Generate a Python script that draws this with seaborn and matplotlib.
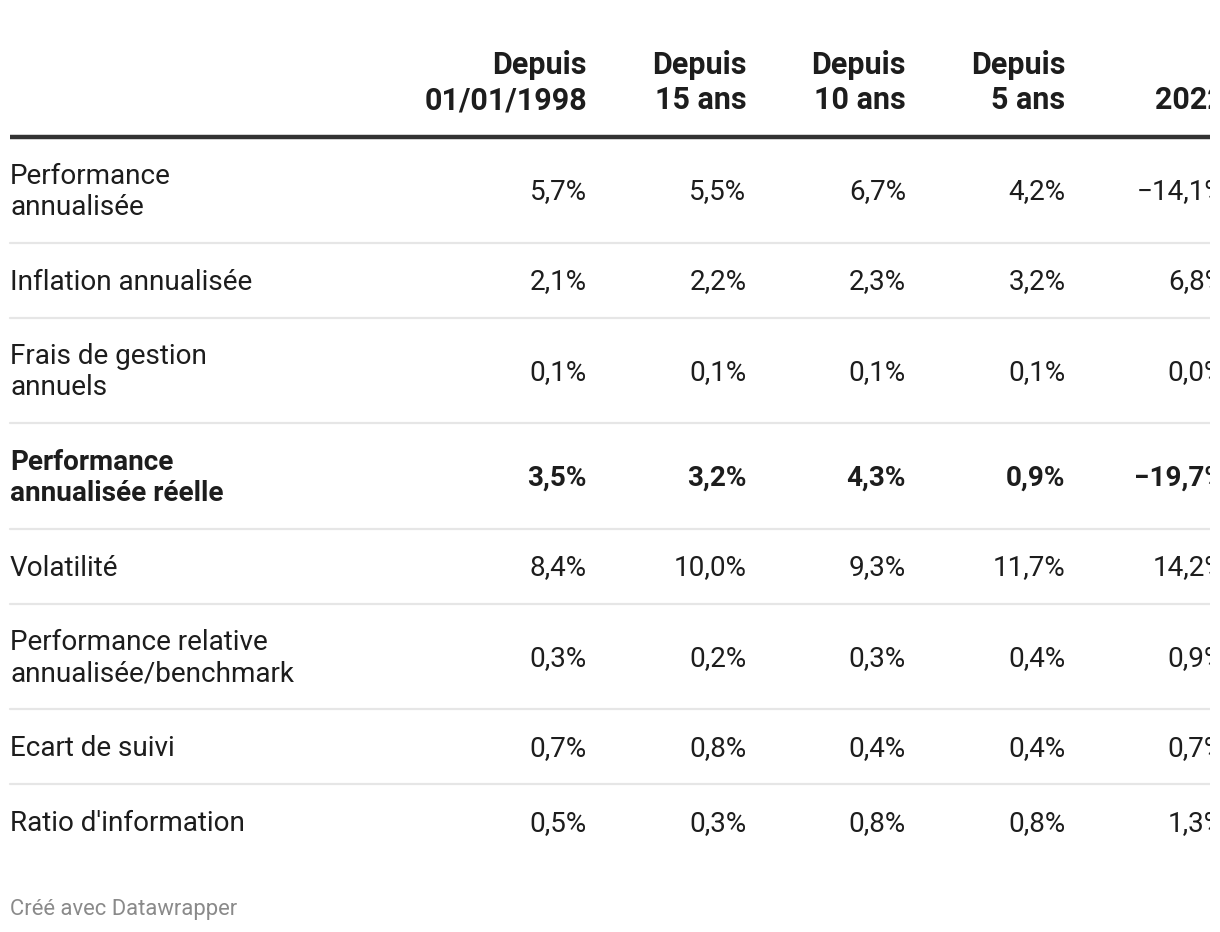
import matplotlib.pyplot as plt
import seaborn as sns

# --- table content ---
columns = ["Depuis\n01/01/1998", "Depuis\n15 ans", "Depuis\n10 ans", "Depuis\n5 ans", "2022"]
row_labels = [
    "Performance\nannualisée",
    "Inflation annualisée",
    "Frais de gestion\nannuels",
    "Performance\nannualisée réelle",
    "Volatilité",
    "Performance relative\nannualisée/benchmark",
    "Ecart de suivi",
    "Ratio d'information",
]
values = [
    [5.7, 5.5, 6.7, 4.2, -14.1],
    [2.1, 2.2, 2.3, 3.2, 6.8],
    [0.1, 0.1, 0.1, 0.1, 0.0],
    [3.5, 3.2, 4.3, 0.9, -19.7],
    [8.4, 10.0, 9.3, 11.7, 14.2],
    [0.3, 0.2, 0.3, 0.4, 0.9],
    [0.7, 0.8, 0.4, 0.4, 0.7],
    [0.5, 0.3, 0.8, 0.8, 1.3],
]
bold_rows = [3]
footer = "Créé avec Datawrapper"


def fmt(v):
    s = f"{abs(v):.1f}".replace(".", ",") + "%"
    return ("\u2212" + s) if v < 0 else s


sns.set_theme(style="white")
plt.rcParams['font.family'] = ['Roboto', 'DejaVu Sans']

W, H = 1220, 932
fig = plt.figure(figsize=(W / 100, H / 100), dpi=100)
# the table is cut at the right edge, like the original export
clip_right = 1210
ax = fig.add_axes([0, 0, clip_right / W, 1])
ax.set_xlim(0, clip_right)
ax.set_ylim(H, 0)
ax.axis("off")

txt = "#1d1d1d"
fs = 20.1
fs_head = 22.0
col_right = [587 + 159.5 * i for i in range(len(columns))]
left = 10

# header
for x, c in zip(col_right, columns):
    lines = c.split("\n")
    for k, line in enumerate(reversed(lines)):
        ax.text(x, 109 - 35 * k, line, ha="right", va="baseline", fontsize=fs_head,
                fontweight="bold", color=txt, clip_on=True)
ax.plot([left, clip_right], [136.5, 136.5], color="#333333", lw=3.2, solid_capstyle="butt")

# body rows
y = 137
for i, (lab, row) in enumerate(zip(row_labels, values)):
    lines = lab.split("\n")
    h = 44.5 + 30.5 * len(lines)
    center = y + h / 2
    weight = "bold" if i in bold_rows else "normal"
    base = center + 9.5
    for k, line in enumerate(lines):
        off = (k - (len(lines) - 1) / 2) * 31
        ax.text(left, base + off, line, ha="left", va="baseline", fontsize=fs,
                fontweight=weight, color=txt, clip_on=True)
    for x, v in zip(col_right, row):
        ax.text(x, base, fmt(v), ha="right", va="baseline", fontsize=fs,
                fontweight=weight, color=txt, clip_on=True)
    y += h
    if i < len(row_labels) - 1:
        ax.plot([left, clip_right], [y, y], color="#e6e6e6", lw=1.6)

fig.text(left / W, 1 - 915 / H, footer, ha="left", va="baseline", fontsize=15.8,
         color="#8a8a8a")

fig.savefig("out.png", dpi=100, facecolor="white")
